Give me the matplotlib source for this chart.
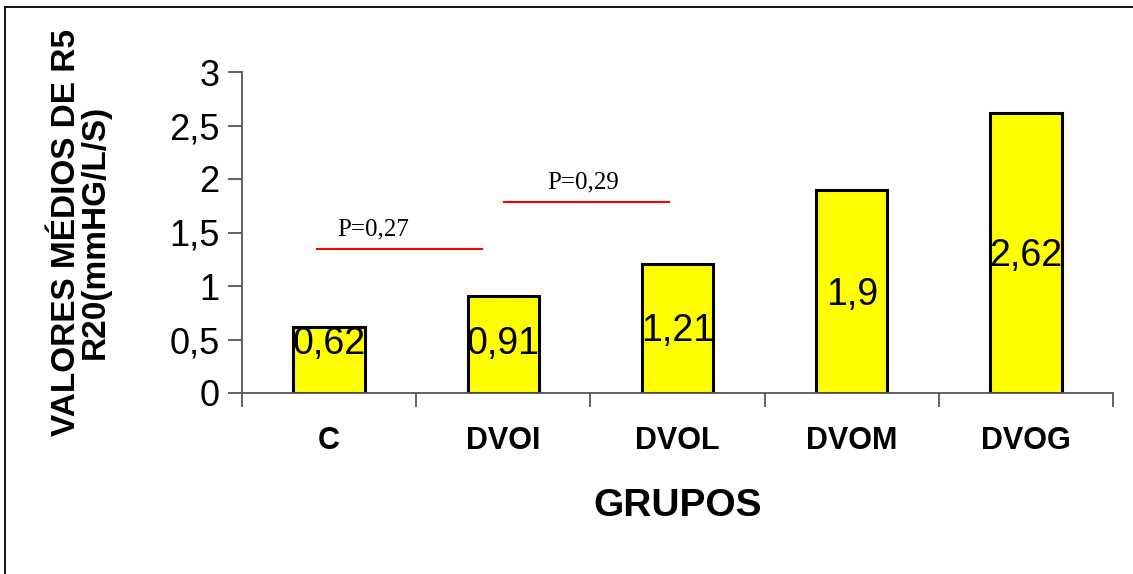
import matplotlib
matplotlib.use("Agg")
import matplotlib.pyplot as plt
from matplotlib.patches import Rectangle

grupos = ["C", "DVOI", "DVOL", "DVOM", "DVOG"]
valores = [0.62, 0.91, 1.21, 1.9, 2.62]
rotulos = ["0,62", "0,91", "1,21", "1,9", "2,62"]
yticks = [0, 0.5, 1, 1.5, 2, 2.5, 3]
ytick_labels = ["0", "0,5", "1", "1,5", "2", "2,5", "3"]
# comparisons: (x start, x end, y, text x, text)
comparacoes = [(-0.07, 0.88, 1.345, 0.045, "P=0,27"), (1.005, 1.95, 1.785, 1.25, "P=0,29")]

plt.rcParams['font.family'] = ['Liberation Sans', 'DejaVu Sans']

fig = plt.figure(figsize=(11.33, 5.74), dpi=100)
ax = fig.add_axes([242/1133, 1-393/574, (1113-242)/1133, (393-72)/574])

x = list(range(len(grupos)))
ax.bar(x, valores, width=0.41, color='#FFFF00', edgecolor='black', linewidth=2.2, zorder=2)
for xi, v, r in zip(x, valores, rotulos):
    ax.text(xi, max(v/2 - 0.03, 0.46), r, ha='center', va='center', fontsize=27, color='black', zorder=3)

for x0, x1, y, tx, t in comparacoes:
    ax.plot([x0, x1], [y, y], color='red', linewidth=1.5, zorder=3)
    ax.text(tx, y + 0.125, t, ha='left', va='baseline', fontsize=18,
            family=['Liberation Serif', 'DejaVu Serif'])

ax.set_xlim(-0.5, 4.5)
ax.set_ylim(0, 3)
ax.set_yticks(yticks)
ax.set_yticklabels(ytick_labels, fontsize=26)
ax.set_xticks([i + 0.5 for i in range(-1, len(grupos))])
ax.set_xticklabels([])
ax.set_xticks(x, minor=True)
ax.set_xticklabels(grupos, minor=True, fontsize=22, fontweight='bold')
ax.tick_params(axis='x', which='minor', length=0, pad=24)
ax.tick_params(axis='x', which='major', length=10, width=1.3, color='#555555', direction='out')
ax.tick_params(axis='y', length=10, width=1.3, color='#555555', pad=6)
ax.spines['top'].set_visible(False)
ax.spines['right'].set_visible(False)
for s in ['left', 'bottom']:
    ax.spines[s].set_color('#555555')
    ax.spines[s].set_linewidth(1.3)

ax.set_xlabel("GRUPOS", fontsize=28, fontweight='bold', labelpad=23)
fig.text(81/1133, 1-232/574, "VALORES MÉDIOS DE R5\nR20(mmHG/L/S)", rotation=90,
         ha='center', va='center', multialignment='center', fontsize=24,
         fontweight='bold', linespacing=0.92)

fig.patches.append(Rectangle((5/1133, -0.1), 1.2, 1.1 - 7/574, transform=fig.transFigure,
                             fill=False, edgecolor='black', linewidth=1.3))

fig.savefig("out.png", dpi=100)
